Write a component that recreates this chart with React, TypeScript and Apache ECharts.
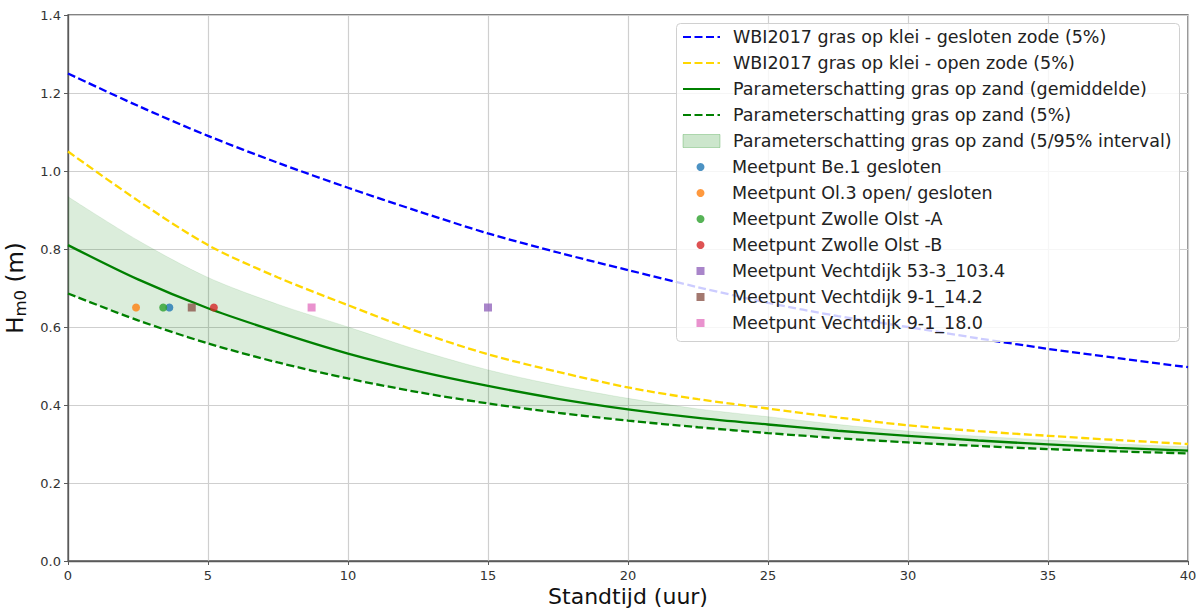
import React, { useEffect, useRef } from "react";
import * as echarts from "echarts";

// Standtijd (uur)
const xs = [0, 2.5, 5, 7.5, 10, 12.5, 15, 17.5, 20, 22.5, 25, 27.5, 30, 32.5, 35, 37.5, 40];
const wbiGesloten = [1.25, 1.167, 1.09, 1.021, 0.957, 0.897, 0.84, 0.791, 0.746, 0.702, 0.662, 0.628, 0.6, 0.571, 0.544, 0.52, 0.497];
const wbiOpen = [1.05, 0.924, 0.81, 0.727, 0.656, 0.588, 0.53, 0.485, 0.445, 0.415, 0.391, 0.368, 0.348, 0.333, 0.321, 0.31, 0.3];
const zandGem = [0.81, 0.722, 0.648, 0.587, 0.532, 0.487, 0.449, 0.416, 0.389, 0.367, 0.35, 0.334, 0.321, 0.309, 0.299, 0.29, 0.283];
const zand5 = [0.686, 0.617, 0.558, 0.509, 0.468, 0.433, 0.404, 0.38, 0.36, 0.343, 0.328, 0.315, 0.304, 0.295, 0.287, 0.281, 0.276];
const zand95 = [0.934, 0.822, 0.727, 0.658, 0.6, 0.541, 0.49, 0.45, 0.417, 0.39, 0.37, 0.35, 0.333, 0.32, 0.31, 0.3, 0.293];

const meetNames = [
  "Meetpunt Be.1 gesloten",
  "Meetpunt Ol.3 open/ gesloten",
  "Meetpunt Zwolle Olst -A",
  "Meetpunt Zwolle Olst -B",
  "Meetpunt Vechtdijk 53-3_103.4",
  "Meetpunt Vechtdijk 9-1_14.2",
  "Meetpunt Vechtdijk 9-1_18.0",
];
const meetX = [3.62, 2.43, 3.4, 5.21, 15.0, 4.42, 8.7];
const meetY = [0.65, 0.65, 0.65, 0.65, 0.65, 0.65, 0.65];
const meetColors = ["#1f77b4", "#ff7f0e", "#2ca02c", "#d62728", "#9467bd", "#8c564b", "#e377c2"];
const meetSymbols = ["circle", "circle", "circle", "circle", "rect", "rect", "rect"];

const lineNames = [
  "WBI2017 gras op klei - gesloten zode (5%)",
  "WBI2017 gras op klei - open zode (5%)",
  "Parameterschatting gras op zand (gemiddelde)",
  "Parameterschatting gras op zand (5%)",
  "Parameterschatting gras op zand (5/95% interval)",
];

const FONT = "DejaVu Sans";
const SQUARE = "path://M0,0L10,0L10,10L0,10Z";

export default function App() {
  const ref = useRef<HTMLDivElement>(null);
  useEffect(() => {
    if (!ref.current) return;
    const chart = echarts.init(ref.current, undefined, { renderer: "svg" });
    const bandDiff = xs.map((_, i) => +(zand95[i] - zand5[i]).toFixed(4));
    const SM = 0.3;
    const DASH = [8, 3.5];
    const LW = 2.3;
    const series: any[] = [
      {
        name: "__base",
        type: "line",
        xAxisIndex: 0,
        data: zand5,
        stack: "band",
        smooth: SM,
        symbol: "none",
        lineStyle: { opacity: 0, width: 0 },
        silent: true,
        z: 1,
      },
      {
        name: lineNames[4],
        type: "line",
        xAxisIndex: 0,
        data: bandDiff,
        stack: "band",
        smooth: SM,
        symbol: "none",
        color: "rgba(0,128,0,0.2)",
        lineStyle: { width: 0.8, color: "rgba(0,128,0,0.12)" },
        areaStyle: { color: "rgba(0,128,0,0.2)" },
        z: 1,
      },
      {
        name: lineNames[0],
        type: "line",
        xAxisIndex: 0,
        data: wbiGesloten,
        smooth: SM,
        symbol: "none",
        color: "#0000ff",
        lineStyle: { width: LW, type: DASH },
        z: 2,
      },
      {
        name: lineNames[1],
        type: "line",
        xAxisIndex: 0,
        data: wbiOpen,
        smooth: SM,
        symbol: "none",
        color: "#ffd700",
        lineStyle: { width: LW, type: DASH },
        z: 2,
      },
      {
        name: lineNames[2],
        type: "line",
        xAxisIndex: 0,
        data: zandGem,
        smooth: SM,
        symbol: "none",
        color: "#008000",
        lineStyle: { width: LW },
        z: 2,
      },
      {
        name: lineNames[3],
        type: "line",
        xAxisIndex: 0,
        data: zand5,
        smooth: SM,
        symbol: "none",
        color: "#008000",
        lineStyle: { width: LW, type: DASH },
        z: 2,
      },
      ...meetNames.map((n, i) => ({
        name: n,
        type: "scatter",
        xAxisIndex: 1,
        data: [[meetX[i], meetY[i]]],
        symbol: meetSymbols[i],
        symbolSize: 8,
        color: meetColors[i],
        z: 3,
      })),
    ];

    const axisLine = { show: true, lineStyle: { color: "#5a5a5a", width: 1.3 } };
    const legendText = { fontSize: 17.5, color: "#222", fontFamily: FONT, lineHeight: 26, padding: [0, 0, 0, 8] };
    const legendText2 = { ...legendText, padding: [0, 0, 0, 22.5] };
    chart.setOption({
      animation: false,
      textStyle: { fontFamily: FONT },
      grid: {
        left: 68,
        right: 15,
        top: 15,
        bottom: 47,
        show: true,
        borderColor: "#5a5a5a",
        borderWidth: 1.3,
        containLabel: false,
        outerBoundsMode: "none",
      },
      xAxis: [
        {
          type: "category",
          data: xs.map(String),
          boundaryGap: false,
          show: false,
        },
        {
          type: "value",
          min: 0,
          max: 40,
          interval: 5,
          position: "bottom",
          name: "Standtijd (uur)",
          nameLocation: "middle",
          nameGap: 24,
          nameMoveOverlap: false,
          nameTextStyle: { fontSize: 22, lineHeight: 22, color: "#111", fontFamily: FONT },
          axisLine,
          axisTick: { show: true, inside: false, length: 4, lineStyle: { color: "#5a5a5a" } },
          axisLabel: { fontSize: 13, color: "#333", margin: 8, fontFamily: FONT },
          splitLine: { show: true, lineStyle: { color: "#cfcfcf", width: 1.2 } },
        },
      ],
      yAxis: {
        type: "value",
        min: 0,
        max: 1.4,
        interval: 0.2,
        name: "{a|H}{b|m0}{a| (m)}",
        nameLocation: "middle",
        nameGap: 33,
        nameTextStyle: {
          color: "#111",
          fontFamily: FONT,
          rich: {
            a: { fontSize: 23, color: "#111", fontFamily: FONT, lineHeight: 28 },
            b: { fontSize: 16.5, color: "#111", fontFamily: FONT, verticalAlign: "bottom", lineHeight: 18 },
          },
        },
        axisLine,
        axisTick: { show: true, inside: false, length: 4, lineStyle: { color: "#5a5a5a" } },
        axisLabel: {
          fontSize: 13,
          color: "#333",
          margin: 7,
          fontFamily: FONT,
          formatter: (v: number) => v.toFixed(1),
        },
        splitLine: { show: true, lineStyle: { color: "#cfcfcf", width: 1.2 } },
      },
      graphic: [
        {
          type: "rect",
          z: 15,
          shape: { x: 676.5, y: 23.5, width: 503, height: 318, r: 4 },
          style: { fill: "rgba(255,255,255,0.8)", stroke: "#d0d0d0", lineWidth: 1 },
        },
      ],
      legend: [
        {
          z: 20,
          left: 682,
          top: 24,
          orient: "vertical",
          padding: 0,
          itemGap: 0,
          itemWidth: 37,
          itemHeight: 13,
          itemStyle: { opacity: 0 },
          data: [
            { name: lineNames[0] },
            { name: lineNames[1] },
            { name: lineNames[2] },
            { name: lineNames[3] },
            {
              name: lineNames[4],
              icon: "rect",
              itemStyle: { opacity: 1, color: "rgba(0,128,0,0.2)", borderColor: "rgba(0,128,0,0.25)", borderWidth: 1 },
            },
          ],
          textStyle: legendText,
        },
        {
          z: 20,
          left: 696.5,
          top: 154,
          orient: "vertical",
          padding: 0,
          itemGap: 0,
          itemWidth: 8,
          itemHeight: 8,
          data: meetNames.map((n, i) => (meetSymbols[i] === "rect" ? { name: n, icon: SQUARE } : { name: n })),
          textStyle: legendText2,
        },
      ],
      series,
    });
    return () => chart.dispose();
  }, []);
  return (
    <div
      ref={ref}
      style={{ position: "fixed", left: 0, top: 0, width: 1203, height: 608, background: "#fff" }}
    />
  );
}
